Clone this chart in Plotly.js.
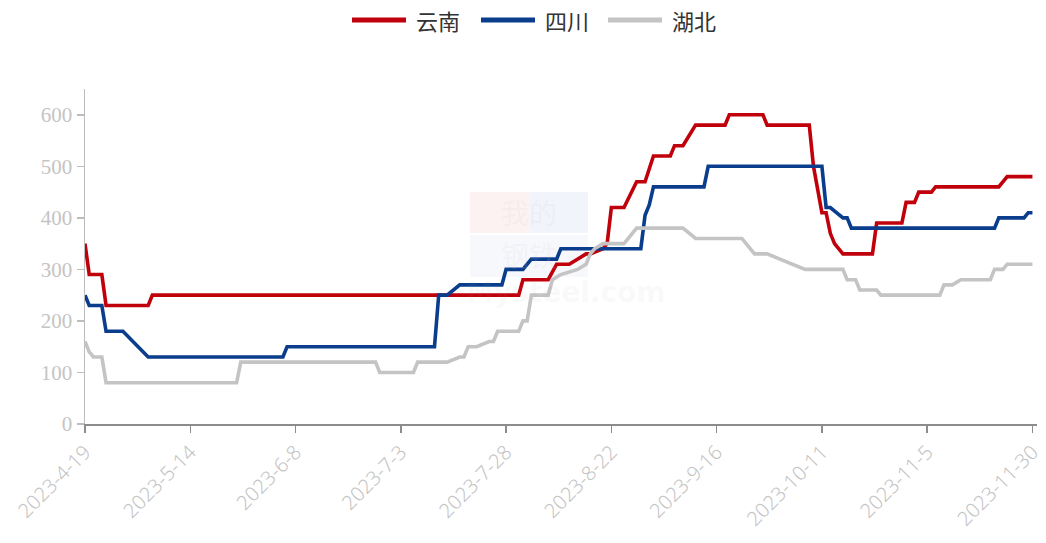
<!DOCTYPE html>
<html>
<head>
<meta charset="utf-8">
<script src="https://cdn.plot.ly/plotly-3.0.1.min.js"></script>
<style>html,body{margin:0;padding:0;background:#fff;}#chart{width:1046px;height:543px;}</style>
</head>
<body>
<div id="chart"></div>
<script>
// Series names
const seriesNames = ['云南', '四川', '湖北'];

// 云南 (red)
const yunnanDates = ['2023-04-19','2023-04-20','2023-04-23','2023-04-24','2023-05-04','2023-05-05','2023-07-31','2023-08-01','2023-08-07','2023-08-09','2023-08-12','2023-08-14','2023-08-16','2023-08-17','2023-08-20','2023-08-21','2023-08-22','2023-08-25','2023-08-28','2023-08-30','2023-09-01','2023-09-05','2023-09-06','2023-09-08','2023-09-11','2023-09-18','2023-09-19','2023-09-27','2023-09-28','2023-10-08','2023-10-09','2023-10-11','2023-10-12','2023-10-13','2023-10-14','2023-10-16','2023-10-23','2023-10-24','2023-10-30','2023-10-31','2023-11-02','2023-11-03','2023-11-06','2023-11-07','2023-11-22','2023-11-24','2023-11-30'];
const yunnanValues = [350,290,290,230,230,250,250,280,280,310,310,320,330,330,340,350,420,420,470,470,520,520,540,540,580,580,600,600,580,580,500,410,410,370,350,330,330,390,390,430,430,450,450,460,460,480,480];

// 四川 (blue)
const sichuanDates = ['2023-04-19','2023-04-20','2023-04-23','2023-04-24','2023-04-28','2023-05-04','2023-06-05','2023-06-06','2023-07-11','2023-07-12','2023-07-14','2023-07-17','2023-07-27','2023-07-28','2023-08-01','2023-08-03','2023-08-09','2023-08-10','2023-08-29','2023-08-30','2023-08-31','2023-09-01','2023-09-13','2023-09-14','2023-10-11','2023-10-12','2023-10-13','2023-10-16','2023-10-17','2023-10-18','2023-11-21','2023-11-22','2023-11-28','2023-11-29','2023-11-30'];
const sichuanValues = [250,230,230,180,180,130,130,150,150,250,250,270,270,300,300,320,320,340,340,405,425,460,460,500,500,420,420,400,400,380,380,400,400,410,410];

// 湖北 (gray)
const hubeiDates = ['2023-04-19','2023-04-20','2023-04-21','2023-04-23','2023-04-24','2023-05-25','2023-05-26','2023-06-27','2023-06-28','2023-07-06','2023-07-07','2023-07-14','2023-07-17','2023-07-18','2023-07-19','2023-07-21','2023-07-24','2023-07-25','2023-07-26','2023-07-31','2023-08-01','2023-08-02','2023-08-03','2023-08-07','2023-08-08','2023-08-10','2023-08-14','2023-08-16','2023-08-17','2023-08-18','2023-08-20','2023-08-25','2023-08-28','2023-09-08','2023-09-11','2023-09-22','2023-09-25','2023-09-28','2023-10-07','2023-10-16','2023-10-17','2023-10-19','2023-10-20','2023-10-24','2023-10-25','2023-11-08','2023-11-09','2023-11-11','2023-11-13','2023-11-20','2023-11-21','2023-11-23','2023-11-24','2023-11-30'];
const hubeiValues = [160,140,130,130,80,80,120,120,100,100,120,120,130,130,150,150,160,160,180,180,200,200,250,250,280,290,300,310,330,340,350,350,380,380,360,360,330,330,300,300,280,280,260,260,250,250,270,270,280,280,300,300,310,310];

// Axis ticks
const xTickDates = ['2023-04-19','2023-05-14','2023-06-08','2023-07-03','2023-07-28','2023-08-22','2023-09-16','2023-10-11','2023-11-05','2023-11-30'];
const xTickLabels = ['2023-4-19','2023-5-14','2023-6-8','2023-7-3','2023-7-28','2023-8-22','2023-9-16','2023-10-11','2023-11-5','2023-11-30'];
const yTickValues = [0,100,200,300,400,500,600];

// Watermark texts
const watermarkRows = ['我的', '钢铁'];
const watermarkLatin = 'Mysteel.com';

const colors = ['#C0000B', '#0A3D8C', '#C4C4C4'];
const allDates = [yunnanDates, sichuanDates, hubeiDates];
const allValues = [yunnanValues, sichuanValues, hubeiValues];

const traces = seriesNames.map((name, i) => ({
  type: 'scatter',
  mode: 'lines',
  name: name,
  x: allDates[i],
  y: allValues[i],
  line: {color: colors[i], width: 3.6, shape: 'linear'},
  showlegend: false
}));

// plot-area helpers (paper coordinates from page pixels)
const M = {l: 85, r: 9, t: 89, b: 119};
const W = 1046, H = 543;
const pw = W - M.l - M.r, ph = H - M.t - M.b;
const px = x => (x - M.l) / pw;
const py = y => (H - M.b - y) / ph;

const shapes = [];
const annotations = [];

// manual legend (long thick line keys, as in the reference)
const legendKeys = [352, 481, 608];
seriesNames.forEach((name, i) => {
  const x0 = legendKeys[i];
  shapes.push({type: 'line', xref: 'paper', yref: 'paper', x0: px(x0), x1: px(x0 + 54), y0: py(20), y1: py(20),
    line: {color: colors[i], width: 5}});
  annotations.push({xref: 'paper', yref: 'paper', x: px(x0 + 62), y: py(20), xanchor: 'left', yanchor: 'middle',
    text: name, showarrow: false, font: {family: '"Noto Sans CJK SC", sans-serif', size: 22, color: '#333333'}});
});

// faint watermark
const wmBoxes = [
  {x0: 470, x1: 530, y0: 192, y1: 233, c: 'rgba(225,70,70,0.07)'},
  {x0: 530, x1: 588, y0: 192, y1: 233, c: 'rgba(70,100,200,0.07)'},
  {x0: 470, x1: 588, y0: 235, y1: 277, c: 'rgba(70,100,180,0.045)'}
];
wmBoxes.forEach(b => shapes.push({type: 'rect', xref: 'paper', yref: 'paper', layer: 'below',
  x0: px(b.x0), x1: px(b.x1), y0: py(b.y1), y1: py(b.y0), line: {width: 0}, fillcolor: b.c}));
const wmRowY = [212, 255];
watermarkRows.forEach((t, i) => annotations.push({xref: 'paper', yref: 'paper', x: px(529), y: py(wmRowY[i]),
  text: t, showarrow: false, font: {family: '"Noto Sans CJK SC", sans-serif', size: 28, color: 'rgba(200,200,215,0.14)'}}));
annotations.push({xref: 'paper', yref: 'paper', x: px(565), y: py(292), text: watermarkLatin, showarrow: false,
  font: {family: '"DejaVu Sans", sans-serif', size: 28, color: 'rgba(160,160,160,0.07)', weight: 'bold'}});

const layout = {
  width: W,
  height: H,
  margin: M,
  paper_bgcolor: '#ffffff',
  plot_bgcolor: '#ffffff',
  showlegend: false,
  shapes: shapes,
  annotations: annotations,
  xaxis: {
    type: 'date',
    range: ['2023-04-19', '2023-12-01 02:00'],
    tickmode: 'array',
    tickvals: xTickDates,
    ticktext: xTickLabels,
    tickangle: -45,
    tickfont: {family: '"Noto Sans", "DejaVu Sans", sans-serif', size: 20, color: '#C4C4C4', weight: 300},
    showline: true,
    linecolor: '#8C8C8C',
    linewidth: 1.5,
    ticks: 'outside',
    ticklen: 7,
    tickwidth: 1.5,
    tickcolor: '#8C8C8C',
    showgrid: false,
    zeroline: false,
    fixedrange: true
  },
  yaxis: {
    range: [0, 650],
    tickmode: 'array',
    tickvals: yTickValues,
    tickfont: {family: '"Liberation Serif", "DejaVu Serif", serif', size: 21, color: '#C4C4C4'},
    showline: true,
    linecolor: '#BDBDBD',
    linewidth: 1.5,
    ticks: 'outside',
    ticklen: 7,
    tickwidth: 1.5,
    tickcolor: '#BDBDBD',
    showgrid: false,
    zeroline: false,
    fixedrange: true
  }
};

Plotly.newPlot('chart', traces, layout, {displayModeBar: false, staticPlot: true});
</script>
</body>
</html>
